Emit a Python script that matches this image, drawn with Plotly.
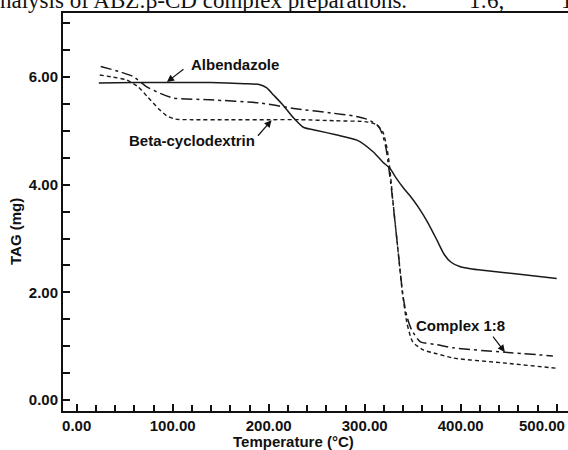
import plotly.graph_objects as go

# ---------------- data ----------------
alb_T = [23, 60, 100, 139, 175, 191, 198, 205, 215, 226, 236, 250, 270, 292, 309, 319,
         326, 333, 340, 347, 356, 365, 375, 383, 390, 399, 410, 423, 459, 500]
alb_m = [5.89, 5.90, 5.90, 5.90, 5.88, 5.86, 5.80, 5.67, 5.48, 5.24, 5.07, 5.01, 4.93, 4.83,
         4.61, 4.42, 4.31, 4.12, 3.95, 3.80, 3.58, 3.32, 2.98, 2.70, 2.56, 2.48, 2.44, 2.41,
         2.34, 2.26]

bcd_T = [24, 38, 52, 64, 74, 85, 94, 103, 120, 160, 200, 233, 270, 302, 313, 319, 323,
         326, 329, 334, 339, 344, 350, 361, 375, 392, 444, 500]
bcd_m = [6.04, 6.00, 5.95, 5.82, 5.63, 5.42, 5.28, 5.22, 5.21, 5.21, 5.21, 5.21, 5.19,
         5.17, 5.11, 4.98, 4.70, 4.33, 3.77, 2.90, 2.04, 1.43, 1.08, 0.93, 0.86, 0.78,
         0.69, 0.59]

cpx_T = [25, 45, 59, 73, 87, 101, 139, 191, 226, 267, 288, 302, 313, 318, 322, 325, 328,
         334, 340, 344, 349, 358, 375, 392, 444, 496]
cpx_m = [6.20, 6.10, 6.01, 5.82, 5.70, 5.61, 5.58, 5.52, 5.42, 5.33, 5.28, 5.22, 5.11,
         4.96, 4.70, 4.33, 3.90, 2.90, 1.92, 1.55, 1.30, 1.08, 1.03, 0.97, 0.89, 0.82]

x_ticks = [0, 100, 200, 300, 400, 500]
x_tick_labels = ["0.00", "100.00", "200.00", "300.00", "400.00", "500.00"]
y_ticks = [0, 2, 4, 6]

series_names = ["Albendazole", "Beta-cyclodextrin", "Complex 1:8"]

# ---------------- layout geometry (pixels) ----------------
W, H = 568, 450
L, R, TOP, BOT = 63, 568, 13, 411


def px(xp):
    return (xp - L) / (R - L)


def py(yp):
    return (BOT - yp) / (BOT - TOP)


fig = go.Figure()
fig.add_trace(go.Scatter(x=alb_T, y=alb_m, mode="lines", name=series_names[0],
                         line=dict(color="#1a1a1a", width=1.5, shape="spline", smoothing=0.6)))
fig.add_trace(go.Scatter(x=bcd_T, y=bcd_m, mode="lines", name=series_names[1],
                         line=dict(color="#1a1a1a", width=1.4, dash="4px,3px", shape="spline",
                                   smoothing=0.6)))
fig.add_trace(go.Scatter(x=cpx_T, y=cpx_m, mode="lines", name=series_names[2],
                         line=dict(color="#1a1a1a", width=1.5, dash="11px,4px,3px,4px",
                                   shape="spline", smoothing=0.6)))

axfont = dict(family="Liberation Sans, Arial, sans-serif", size=15, color="#111", weight="bold")

# last x label is drawn separately (shifted left to stay inside the frame, as in the source)
shown_x_labels = x_tick_labels[:-1] + [""]

fig.update_xaxes(range=[-14.27, 511.77], showgrid=False, zeroline=False,
                 showline=True, linecolor="#111", linewidth=2, mirror=True,
                 tickmode="array", tickvals=x_ticks, ticktext=shown_x_labels,
                 ticks="inside", ticklen=7, tickwidth=1.5, tickcolor="#111",
                 minor=dict(dtick=20, ticks="inside", ticklen=6, tickwidth=1.5, tickcolor="#111"),
                 tickfont=axfont, automargin=False, ticklabeloverflow="allow")
fig.update_yaxes(range=[-0.2045, 7.193], showgrid=False, zeroline=False,
                 showline=True, linecolor="#111", linewidth=2,
                 tickmode="array", tickvals=y_ticks, tickformat=".2f",
                 ticks="inside", ticklen=7, tickwidth=1.5, tickcolor="#111",
                 minor=dict(dtick=0.5, ticks="inside", ticklen=7, tickwidth=1.5, tickcolor="#111"),
                 tickfont=axfont, automargin=False, ticklabeloverflow="allow")

lblfont = dict(family="Liberation Sans, Arial, sans-serif", size=15, color="#111", weight="bold")
annotations = [
    # last x tick label
    dict(text=x_tick_labels[-1], xref="paper", yref="paper", x=px(567), y=py(425),
         xanchor="right", yanchor="middle", showarrow=False, font=axfont),
    # axis titles
    dict(text="Temperature (°C)", xref="paper", yref="paper", x=px(293), y=py(441),
         xanchor="center", yanchor="middle", showarrow=False, font=lblfont),
    dict(text="TAG (mg)", xref="paper", yref="paper", x=px(15), y=py(232),
         xanchor="center", yanchor="middle", showarrow=False, font=lblfont, textangle=-90),
    # series labels
    dict(text=series_names[0], x=165, y=6.23, xanchor="center", yanchor="middle",
         showarrow=False, font=lblfont),
    dict(text=series_names[1], x=120, y=4.83, xanchor="center", yanchor="middle",
         showarrow=False, font=lblfont),
    dict(text=series_names[2], x=400, y=1.39, xanchor="center", yanchor="middle",
         showarrow=False, font=lblfont),
    # arrows
    dict(text="", x=94, y=5.91, ax=18, ay=-14, showarrow=True, arrowhead=2,
         arrowsize=1.2, arrowwidth=1.2, arrowcolor="#111"),
    dict(text="", x=203, y=5.20, ax=-15, ay=17, showarrow=True, arrowhead=2,
         arrowsize=1.2, arrowwidth=1.2, arrowcolor="#111"),
    dict(text="", x=446, y=0.89, ax=-13, ay=-17, showarrow=True, arrowhead=2,
         arrowsize=1.2, arrowwidth=1.2, arrowcolor="#111"),
]

capfont = dict(family="Liberation Serif, Times New Roman, serif", size=23, color="#111")
for txt, xpix in [("nalysis of ABZ:β-CD complex preparations.", -2), ("1:6,", 467), ("1", 559)]:
    annotations.append(dict(text=txt, xref="paper", yref="paper", x=px(xpix), y=py(15),
                            xanchor="left", yanchor="bottom", showarrow=False, font=capfont))

fig.update_layout(width=W, height=H, margin=dict(l=L, r=W - R, t=TOP, b=H - BOT),
                  paper_bgcolor="white", plot_bgcolor="white", showlegend=False,
                  annotations=annotations)

fig.write_html("out.html")
